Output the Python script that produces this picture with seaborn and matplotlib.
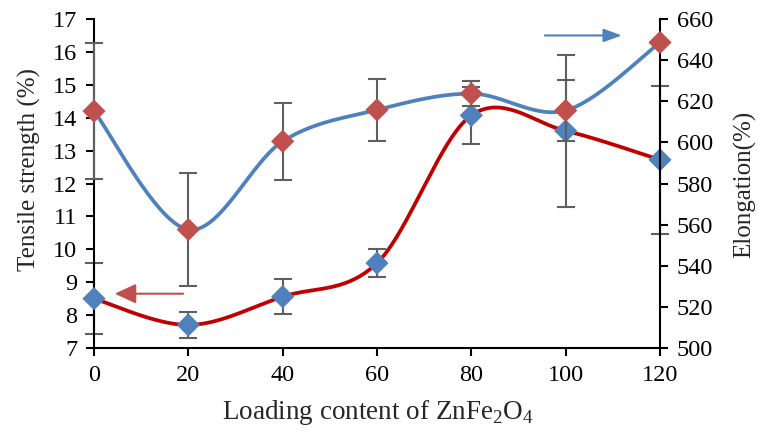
import matplotlib
matplotlib.use("Agg")
import matplotlib.pyplot as plt
import numpy as np
import seaborn as sns

# loading content of ZnFe2O4
loading = [0, 20, 40, 60, 80, 100, 120]

# tensile strength (left axis) and its error
tensile = [8.5, 7.7, 8.56, 9.58, 14.07, 13.6, 12.72]
tensile_err = [1.07, 0.4, 0.53, 0.43, 0.87, 2.3, 2.24]

# elongation (right axis) and its error
elongation = [615.2, 557.6, 600.5, 615.8, 623.7, 615.5, 648.6]
elongation_err = [33, 27.5, 18.6, 15, 6, 15, 0]

RED_LINE = "#C00000"
BLUE_LINE = "#4F81BD"
RED_MARK = "#C0504D"
BLUE_MARK = "#4F81BD"
ERR = "#5F5F5F"


def smooth(x, y, n=40):
    # Excel-like smoothed line: cubic bezier through the points
    x = np.asarray(x, float)
    y = np.asarray(y, float)
    pts = np.column_stack([x, y])
    ext = np.vstack([pts[0], pts, pts[-1]])
    out = []
    t = np.linspace(0, 1, n)[:, None]
    for i in range(len(pts) - 1):
        p0, p1 = ext[i + 1], ext[i + 2]
        c1 = p0 + (ext[i + 2] - ext[i]) / 6
        c2 = p1 - (ext[i + 3] - ext[i + 1]) / 6
        seg = ((1 - t) ** 3) * p0 + 3 * ((1 - t) ** 2) * t * c1 + 3 * (1 - t) * t ** 2 * c2 + t ** 3 * p1
        out.append(seg if i == 0 else seg[1:])
    out = np.vstack(out)
    return out[:, 0], out[:, 1]


sns.set_style("ticks")
plt.rcParams["font.family"] = ["Liberation Serif", "DejaVu Serif"]
plt.rcParams["mathtext.fontset"] = "custom"
plt.rcParams["mathtext.rm"] = "Liberation Serif"

fig = plt.figure(figsize=(7.58, 4.32), dpi=100)
ax = fig.add_axes([94 / 758, 84 / 432, 566 / 758, 329 / 432])
ax2 = ax.twinx()

# tensile strength, left axis
ax.errorbar(loading, tensile, yerr=tensile_err, fmt="none", ecolor=ERR,
            elinewidth=1.5, capsize=6.5, capthick=1.5, clip_on=False, zorder=2)
sx, sy = smooth(loading, tensile)
sns.lineplot(x=sx, y=sy, ax=ax, color=RED_LINE, linewidth=2.7, sort=False,
             estimator=None, zorder=3)
sns.scatterplot(x=loading, y=tensile, ax=ax, marker="D", s=140, color=BLUE_MARK,
                edgecolor="none", clip_on=False, zorder=4)

# elongation, right axis
ax2.errorbar(loading, elongation, yerr=elongation_err, fmt="none", ecolor=ERR,
             elinewidth=1.5, capsize=6.5, capthick=1.5, clip_on=False, zorder=2)
ex, ey = smooth(loading, elongation)
sns.lineplot(x=ex, y=ey, ax=ax2, color=BLUE_LINE, linewidth=2.7, sort=False,
             estimator=None, zorder=3)
sns.scatterplot(x=loading, y=elongation, ax=ax2, marker="D", s=140, color=RED_MARK,
                edgecolor="none", clip_on=False, zorder=4)

ax.set_xlim(0, 120)
ax.set_ylim(7, 17)
ax2.set_ylim(500, 660)
ax.set_xticks(loading)
ax.set_yticks(range(7, 18))
ax2.set_yticks(range(500, 661, 20))

for a in (ax, ax2):
    a.spines["top"].set_visible(False)
    for s in a.spines.values():
        s.set_linewidth(1.5)
        s.set_color("black")
    a.tick_params(axis="both", direction="out", length=6, width=1.5,
                  labelsize=17.5, pad=6, colors="black")
ax.spines["right"].set_visible(False)
ax2.spines["left"].set_visible(False)
ax2.spines["bottom"].set_visible(False)

ax.set_xlabel(r"Loading content of ZnFe$_\mathregular{2}$O$_\mathregular{4}$",
              fontsize=19.5)
ax.set_ylabel("Tensile strength (%)", fontsize=18)
ax2.set_ylabel("Elongation(%)", fontsize=18)
ax.xaxis.set_label_coords(0.502, -0.152)
ax.yaxis.set_label_coords(-0.094, 0.544)
ax2.yaxis.set_label_coords(1.129, 0.498)

# direction arrows
ax.annotate("", xy=(3.8, 8.65), xytext=(19.5, 8.65),
            arrowprops=dict(arrowstyle="-|>,head_length=1.3,head_width=0.6",
                            color=RED_MARK, lw=1.5))
ax.annotate("", xy=(112.5, 16.5), xytext=(95, 16.5),
            arrowprops=dict(arrowstyle="-|>,head_length=1.1,head_width=0.4",
                            color=BLUE_LINE, lw=1.5))

fig.savefig("out.png", dpi=100)
